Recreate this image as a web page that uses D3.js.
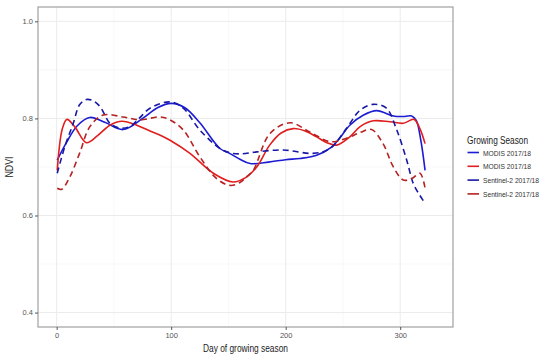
<!DOCTYPE html>
<html><head><meta charset="utf-8">
<script src="https://cdn.jsdelivr.net/npm/d3@7"></script>
<style>body{margin:0;background:#fff;}svg{display:block;font-family:Arial,"Liberation Sans",sans-serif;}</style>
</head><body>
<script>
const seriesNames = ["MODIS 2017/18","MODIS 2017/18","Sentinel-2 2017/18","Sentinel-2 2017/18"];
const seriesColors = ["#1c1cd2","#e01e1e","#1818a6","#b52222"];
const seriesDash = [null,null,"6,4","6,4"];
const xTicks = [0,100,200,300];
const yTicks = [0.4,0.6,0.8,1.0];
const modisBlueDay = [0.5,8,18,29,42,58,75,88,100,112,125,142.6,151,160,169,185,200,212.5,227,240,247,256,268,279.5,294,304,310,314,318,321.7];
const modisBlueVal = [0.714,0.748,0.785,0.802,0.792,0.777,0.800,0.822,0.831,0.822,0.791,0.738,0.728,0.716,0.707,0.710,0.715,0.7175,0.724,0.741,0.759,0.786,0.807,0.816,0.805,0.804,0.805,0.796,0.755,0.693];
const modisRedDay = [0.5,5,9,16,26,36,46.5,57,70,81.5,90,99,116.4,136.8,154,165,174.7,186,196,206.6,217,227,236,244.5,256,265,276.5,291,302.7,312,317,321.7];
const modisRedVal = [0.693,0.779,0.798,0.782,0.750,0.765,0.786,0.794,0.786,0.774,0.766,0.755,0.728,0.687,0.669,0.678,0.700,0.745,0.770,0.779,0.774,0.762,0.750,0.745,0.762,0.783,0.795,0.793,0.790,0.798,0.780,0.748];
const sentBlueDay = [0.5,7,14.5,20,26,32,38,46.5,55,64,72,81.5,99,110.6,125,142.6,151.4,160,174.7,198,224,238.7,253,265,276.5,288,297,305.7,311.4,317,321.7];
const sentBlueVal = [0.687,0.741,0.790,0.828,0.839,0.836,0.824,0.790,0.780,0.783,0.800,0.821,0.834,0.821,0.776,0.738,0.729,0.727,0.731,0.735,0.728,0.738,0.779,0.817,0.829,0.821,0.776,0.714,0.666,0.642,0.625];
const sentRedDay = [0.5,4.4,11.6,20,29,40.7,58,72.7,90,99,110.6,125,139.7,151.4,160,166,171.7,186.3,203.8,221,238.7,253,265,275,285,294,302.7,310,317.3,321.7];
const sentRedVal = [0.656,0.654,0.680,0.728,0.783,0.807,0.803,0.797,0.803,0.797,0.776,0.721,0.676,0.662,0.668,0.680,0.693,0.769,0.791,0.772,0.752,0.759,0.771,0.777,0.748,0.700,0.673,0.676,0.687,0.656];
const seriesDays = [modisBlueDay, modisRedDay, sentBlueDay, sentRedDay];
const seriesVals = [modisBlueVal, modisRedVal, sentBlueVal, sentRedVal];

const W = 550, H = 361;
const P = {l:38, r:453, t:7, b:327};
const svg = d3.select("body").append("svg").attr("width",W).attr("height",H);
const x = d3.scaleLinear().domain([-16.3,346.1]).range([P.l,P.r]);
const y = d3.scaleLinear().domain([0.3703,1.0295]).range([P.b,P.t]);

// grid
const g = svg.append("g");
[50,150,250].forEach(v=>g.append("line").attr("x1",x(v)).attr("x2",x(v)).attr("y1",P.t).attr("y2",P.b).attr("stroke","#f3f3f3").attr("stroke-width",0.6));
[0.5,0.7,0.9].forEach(v=>g.append("line").attr("y1",y(v)).attr("y2",y(v)).attr("x1",P.l).attr("x2",P.r).attr("stroke","#f3f3f3").attr("stroke-width",0.6));
xTicks.forEach(v=>g.append("line").attr("x1",x(v)).attr("x2",x(v)).attr("y1",P.t).attr("y2",P.b).attr("stroke","#ebebeb").attr("stroke-width",1));
yTicks.forEach(v=>g.append("line").attr("y1",y(v)).attr("y2",y(v)).attr("x1",P.l).attr("x2",P.r).attr("stroke","#ebebeb").attr("stroke-width",1));

// lines
const line = d3.line().x(d=>x(d[0])).y(d=>y(d[1])).curve(d3.curveCatmullRom.alpha(0.5));
seriesDays.forEach((days,i)=>{
  const pts = days.map((d,j)=>[d, seriesVals[i][j]]);
  svg.append("path").datum(pts).attr("d",line).attr("fill","none")
    .attr("stroke",seriesColors[i]).attr("stroke-width",1.6)
    .attr("stroke-dasharray",seriesDash[i]);
});

// border
svg.append("rect").attr("x",P.l).attr("y",P.t).attr("width",P.r-P.l).attr("height",P.b-P.t)
  .attr("fill","none").attr("stroke","#a0a0a0").attr("stroke-width",1.2);

// axes
const xa = svg.append("g").attr("transform",`translate(0,${P.b})`)
  .call(d3.axisBottom(x).tickValues(xTicks).tickSize(3).tickPadding(3).tickFormat(d3.format("d")));
const ya = svg.append("g").attr("transform",`translate(${P.l},0)`)
  .call(d3.axisLeft(y).tickValues(yTicks).tickSize(3).tickPadding(2).tickFormat(d3.format(".1f")));
[xa,ya].forEach(a=>{
  a.select(".domain").remove();
  a.selectAll("line").attr("stroke","#555");
  a.selectAll("text").attr("fill","#555").attr("font-size",7.5).attr("font-family","Arial,'Liberation Sans',sans-serif");
});

svg.append("text").attr("x",(P.l+P.r)/2).attr("y",352).attr("text-anchor","middle")
  .attr("font-size",10).attr("fill","#222").attr("textLength",85).attr("lengthAdjust","spacingAndGlyphs")
  .text("Day of growing season");
svg.append("text").attr("transform",`translate(13,${(P.t+P.b)/2}) rotate(-90)`).attr("text-anchor","middle")
  .attr("font-size",10).attr("fill","#222").attr("textLength",21).attr("lengthAdjust","spacingAndGlyphs").text("NDVI");

// legend
const lg = svg.append("g");
lg.append("text").attr("x",467).attr("y",143.5).attr("font-size",10).attr("fill","#222")
  .attr("textLength",61).attr("lengthAdjust","spacingAndGlyphs").text("Growing Season");
seriesNames.forEach((n,i)=>{
  const yy = 152.5 + i*13.8;
  lg.append("line").attr("x1",467.5).attr("x2",479).attr("y1",yy).attr("y2",yy)
    .attr("stroke",seriesColors[i]).attr("stroke-width",1.6);
  lg.append("text").attr("x",483).attr("y",yy+3).attr("font-size",8).attr("fill","#333")
    .attr("textLength", n.startsWith("MODIS") ? 48 : 56).attr("lengthAdjust","spacingAndGlyphs").text(n);
});
</script>
</body></html>
